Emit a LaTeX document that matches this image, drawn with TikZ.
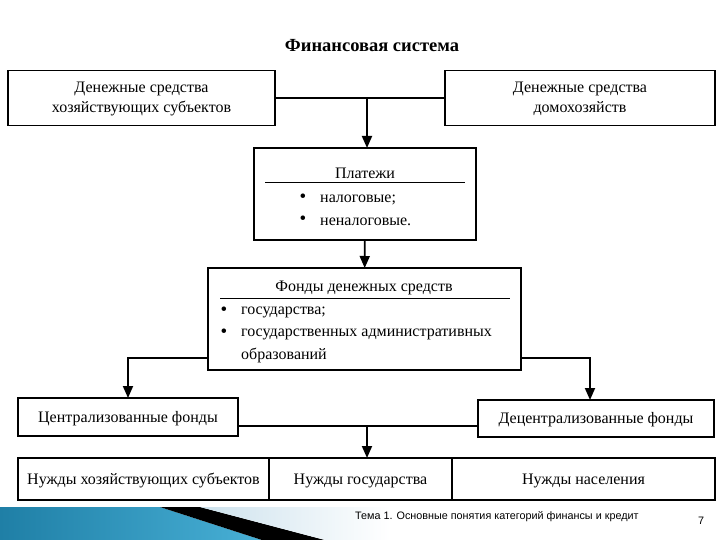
\documentclass[tikz,border=0pt]{standalone}
\usepackage{fontspec}
\setmainfont{Liberation Serif}
\newfontfamily\footfont{Liberation Sans}
\usetikzlibrary{arrows.meta,positioning}
\definecolor{sea}{HTML}{1F7FA6}
\definecolor{sealight}{HTML}{48B0D6}
\definecolor{pale}{HTML}{CDE2ED}

\begin{document}
\begin{tikzpicture}[x=1pt,y=-1pt,
  box/.style={draw,line width=1.6pt,inner sep=0pt,outer sep=0pt,align=center,
              font=\fontsize{16}{20}\selectfont},
  one/.style={text height=13pt,text depth=3pt},
  txt/.style={inner sep=0pt,anchor=west,font=\fontsize{16}{22}\selectfont},
  bul/.style={inner sep=0pt,font=\fontsize{19}{22}\selectfont},
  ar/.style={-{Triangle[length=12pt,width=10pt]},line width=1.8pt},
  ln/.style={line width=1.8pt}]
\useasboundingbox[fill=white] (0,0) rectangle (720,540);
% slide footer
\shade[left color=sea,right color=sealight] (0,507) -- (160,507) -- (262,540) -- (0,540) -- cycle;
\fill[black] (160,507) -- (200,507) -- (325,540) -- (262,540) -- cycle;
\shade[left color=pale,right color=white] (200,507) -- (390,507) -- (390,540) -- (325,540) -- cycle;
\node[inner sep=0pt,anchor=west,font=\footfont\fontsize{10.8}{12}\selectfont] (foot) at (355,517)
  {Тема 1. Основные понятия категорий финансы и кредит};
\node[inner sep=0pt,font=\footfont\fontsize{10.8}{12}\selectfont] (page) at (701,521) {7};
% title
\node[inner sep=0pt,font=\fontsize{18.5}{20}\selectfont\bfseries] (title) at (372,46) {Финансовая система};
% sources
\node[box,minimum width=267pt,minimum height=55pt] (hs) at (141.5,98)
  {\rule{0pt}{13pt}Денежные средства\\хозяйствующих субъектов};
\node[box,minimum width=270pt,minimum height=55pt] (dh) at (580,98)
  {\rule{0pt}{13pt}Денежные средства\\домохозяйств};
% payments
\node[box,minimum width=222pt,minimum height=92pt] (pay) at (365,194) {};
\node[txt,anchor=center] (payt) at (365,173) {Платежи};
\draw[line width=1pt] (265,183) -- (465,183);
\node[txt] (p1) at (320,200) {налоговые;};
\node[txt] (p2) at (320,222) {неналоговые.};
\node[bul] at (303,198) {\textbullet};
\node[bul] at (303,220) {\textbullet};
% funds
\node[box,minimum width=313pt,minimum height=102pt] (fds) at (364.5,319) {};
\node[txt,anchor=center] (fdst) at (364,288) {Фонды денежных средств};
\draw[line width=1pt] (220,298) -- (510,298);
\node[txt] (f1) at (241,312) {государства;};
\node[txt] (f2) at (241,334) {государственных административных};
\node[txt] (f3) at (241,355) {образований};
\node[bul] at (224,311) {\textbullet};
\node[bul] at (224,333) {\textbullet};
% centralised / decentralised
\node[box,one,minimum width=220pt,minimum height=38pt] (cen) at (128,417) {Централизованные фонды};
\node[box,one,minimum width=236pt,minimum height=37pt] (dec) at (596,418.5) {Децентрализованные фонды};
% needs
\node[box,one,minimum width=251pt,minimum height=42pt] (n1) at (143.5,479) {Нужды хозяйствующих субъектов};
\node[box,one,minimum width=183pt,minimum height=42pt,right=0pt of n1] (n2) {Нужды государства};
\node[box,one,minimum width=263pt,minimum height=42pt,right=0pt of n2] (n3) {Нужды населения};
% connectors
\coordinate (j1) at (367,98);
\coordinate (j2) at (367,426);
\draw[ln] (hs) -- (dh);
\draw[ar] (j1) -- (j1 |- pay.north);
\draw[ar] (pay) -- (fds);
\draw[ar] ([yshift=-39pt]fds.west) -| (cen.north);
\draw[ar] ([yshift=-39pt]fds.east) -| ([xshift=-6pt]dec.north);
\draw[ln] (cen.east |- j2) -- (dec.west |- j2);
\draw[ar] (j2) -- (j2 |- n2.north);
\end{tikzpicture}
\end{document}
